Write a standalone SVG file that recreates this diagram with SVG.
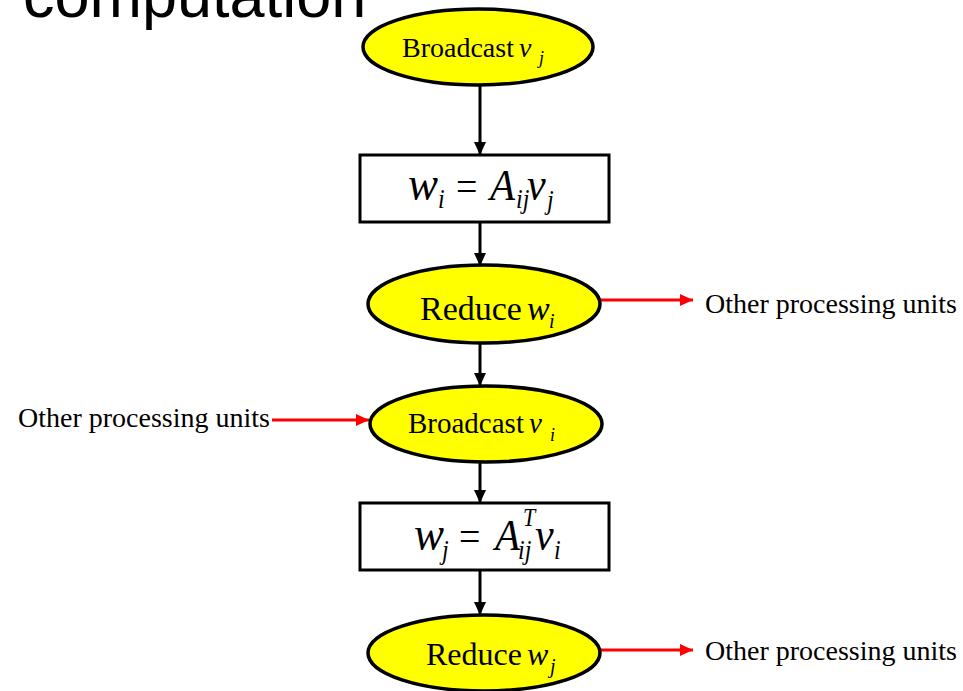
<svg xmlns="http://www.w3.org/2000/svg" width="963" height="691" viewBox="0 0 963 691">
<defs>
<style>
.node{fill:#ffff00;stroke:#000;stroke-width:3.5}
.box{fill:#fff;stroke:#000;stroke-width:3}
.t{font-family:"Liberation Serif","Times New Roman",serif;fill:#000}
.i{font-family:"Liberation Serif","Times New Roman",serif;font-style:italic;fill:#000}
.blk{stroke:#000;stroke-width:3;fill:none}
.red{stroke:#ff0000;stroke-width:3;fill:none}
</style>
<marker id="ab" viewBox="0 0 13 12" refX="13" refY="6" markerWidth="13" markerHeight="12" markerUnits="userSpaceOnUse" orient="auto"><path d="M0,0 L13,6 L0,12 Z" fill="#000"/></marker>
<marker id="ar" viewBox="0 0 13 12" refX="13" refY="6" markerWidth="13" markerHeight="12" markerUnits="userSpaceOnUse" orient="auto"><path d="M0,0 L13,6 L0,12 Z" fill="#ff0000"/></marker>
</defs>
<rect width="963" height="691" fill="#fff"/>
<text x="23" y="17" font-family="'Liberation Sans',Arial,sans-serif" font-size="63" fill="#000">computation</text>

<g id="connectors">
<line class="blk" x1="480" y1="86" x2="480" y2="155" marker-end="url(#ab)"/>
<line class="blk" x1="480" y1="223" x2="480" y2="266" marker-end="url(#ab)"/>
<line class="blk" x1="480" y1="343" x2="480" y2="386" marker-end="url(#ab)"/>
<line class="blk" x1="480" y1="462" x2="480" y2="503" marker-end="url(#ab)"/>
<line class="blk" x1="480" y1="570" x2="480" y2="615" marker-end="url(#ab)"/>
<line class="red" x1="600" y1="300" x2="693" y2="300" marker-end="url(#ar)"/>
<line class="red" x1="272" y1="420" x2="369" y2="420" marker-end="url(#ar)"/>
<line class="red" x1="600" y1="650" x2="693" y2="650" marker-end="url(#ar)"/>
</g>

<g id="broadcast-vj">
<ellipse class="node" cx="478" cy="47" rx="115" ry="38"/>
<text class="t" x="402" y="57" font-size="28">Broadcast</text>
<text class="i" x="519" y="57" font-size="28">v</text>
<text class="i" x="539" y="64" font-size="18">j</text>
</g>

<g id="compute-wi">
<rect class="box" x="360" y="155" width="249" height="67"/>
<g transform="translate(0,200) scale(1,1.1) translate(0,-200)">
<text class="i" x="408" y="200" font-size="45">w</text>
<text class="i" x="438" y="207" font-size="24">i</text>
<text class="t" x="456" y="200" font-size="38">=</text>
<text class="i" x="490" y="200" font-size="41">A</text>
<text class="i" x="516" y="207" font-size="24">ij</text>
<text class="i" x="527" y="200" font-size="42">v</text>
<text class="i" x="547" y="208" font-size="24">j</text>
</g>
</g>

<g id="reduce-wi">
<ellipse class="node" cx="484" cy="304" rx="116" ry="39"/>
<text class="t" x="420" y="320" font-size="34">Reduce</text>
<text class="i" x="527" y="320" font-size="34">w</text>
<text class="i" x="549" y="328" font-size="20">i</text>
</g>

<g id="other1">
<text class="t" x="705" y="313" font-size="28">Other processing units</text>
</g>

<g id="other2">
<text class="t" x="18" y="427" font-size="28">Other processing units</text>
</g>

<g id="broadcast-vi">
<ellipse class="node" cx="486" cy="424" rx="116" ry="38"/>
<text class="t" x="408" y="433" font-size="29">Broadcast</text>
<text class="i" x="529" y="433" font-size="29">v</text>
<text class="i" x="550" y="441" font-size="18">i</text>
</g>

<g id="compute-wj">
<rect class="box" x="360" y="503" width="249" height="67"/>
<g transform="translate(0,550) scale(1,1.1) translate(0,-550)">
<text class="i" x="414" y="550" font-size="45">w</text>
<text class="i" x="442" y="558" font-size="24">j</text>
<text class="t" x="459" y="550" font-size="38">=</text>
<text class="i" x="495" y="550" font-size="41">A</text>
<text class="i" x="523" y="528" font-size="22">T</text>
<text class="i" x="518" y="558" font-size="24">ij</text>
<text class="i" x="535" y="550" font-size="42">v</text>
<text class="i" x="554" y="558" font-size="24">i</text>
</g>
</g>

<g id="reduce-wj">
<ellipse class="node" cx="484" cy="653" rx="116" ry="38"/>
<text class="t" x="426" y="665" font-size="32">Reduce</text>
<text class="i" x="527" y="665" font-size="32">w</text>
<text class="i" x="550" y="673" font-size="20">j</text>
</g>

<g id="other3">
<text class="t" x="705" y="660" font-size="28">Other processing units</text>
</g>
</svg>
